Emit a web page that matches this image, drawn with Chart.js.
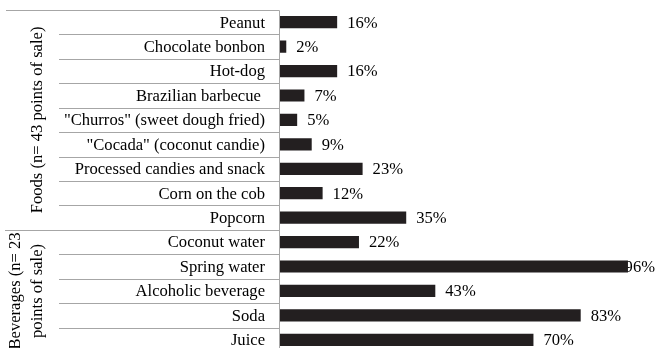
<!DOCTYPE html>
<html>
<head>
<meta charset="utf-8">
<script src="https://cdn.jsdelivr.net/npm/chart.js@4"></script>
<style>
  html, body { margin: 0; padding: 0; background: #fff; overflow: hidden; }
  #wrap { position: relative; width: 656px; height: 352px; }
</style>
</head>
<body>
<div id="wrap"><canvas id="chart"></canvas></div>
<script>
// items, top to bottom
const items = [
    'Peanut', 'Chocolate bonbon', 'Hot-dog', 'Brazilian barbecue ',
    '"Churros" (sweet dough fried)', '"Cocada" (coconut candie)',
    'Processed candies and snack', 'Corn on the cob', 'Popcorn',
    'Coconut water', 'Spring water', 'Alcoholic beverage', 'Soda', 'Juice'
];
const shares = [16, 2, 16, 7, 5, 9, 23, 12, 35, 22, 96, 43, 83, 70];

// groups: label lines + how many items they hold
const groupNames = [
    ['Foods (n= 43 points of sale)'],
    ['Beverages (n= 23', 'points of sale)']
];
const groupSizes = [9, 5];

const FONT = '16.6px "Liberation Serif", "Times New Roman", serif';
const GRID = '#a6a6a6';

const tablePlugin = {
    id: 'table',
    beforeDatasetsDraw(chart) {
        // value labels go under the bars (96% is partly hidden in the source)
        const ctx = chart.ctx;
        const meta = chart.getDatasetMeta(0);
        ctx.save();
        ctx.font = FONT;
        ctx.fillStyle = '#000';
        ctx.textBaseline = 'middle';
        meta.data.forEach((bar, i) => {
            const txt = shares[i] + '%';
            const w = ctx.measureText(txt).width;
            const x = Math.min(bar.x + 10, chart.width - 1 - w);
            ctx.fillText(txt, x, bar.y + 1);
        });
        ctx.restore();
    },
    afterDraw(chart) {
        const ctx = chart.ctx;
        const y = chart.scales.y;
        const area = chart.chartArea;
        const axisX = Math.round(area.left) + 0.5;
        const pos = i => y.getPixelForValue(i);
        const half = (pos(1) - pos(0)) / 2;

        ctx.save();
        ctx.strokeStyle = GRID;
        ctx.lineWidth = 1;

        // row separators
        const groupEnds = [];
        let acc = 0;
        groupSizes.forEach(n => { acc += n; groupEnds.push(acc); });
        for (let i = 0; i < items.length; i++) {
            const yy = Math.round(pos(i) - half) + 0.5;
            let x0 = 59;
            if (i === 0) x0 = 6;
            else if (groupEnds.includes(i)) x0 = 5;
            ctx.beginPath();
            ctx.moveTo(x0, yy);
            ctx.lineTo(axisX, yy);
            ctx.stroke();
        }
        // axis line
        ctx.beginPath();
        ctx.moveTo(axisX, Math.round(area.top) + 0.5);
        ctx.lineTo(axisX, area.bottom);
        ctx.stroke();

        // item labels
        ctx.font = FONT;
        ctx.fillStyle = '#000';
        ctx.textAlign = 'right';
        ctx.textBaseline = 'middle';
        items.forEach((t, i) => ctx.fillText(t, 265, pos(i) + 1));

        // group labels, rotated
        ctx.textAlign = 'center';
        let start = 0;
        groupNames.forEach((lines, g) => {
            const end = start + groupSizes[g] - 1;
            const cy = (pos(start) - half + pos(end) + half) / 2;
            const n = lines.length;
            lines.forEach((line, k) => {
                const cx = n === 1 ? 38 : 16 + k * 22;
                ctx.save();
                ctx.translate(cx, cy);
                ctx.rotate(-Math.PI / 2);
                ctx.fillText(line, 0, 0);
                ctx.restore();
            });
            start += groupSizes[g];
        });
        ctx.restore();
    }
};

new Chart(document.getElementById('chart'), {
    type: 'bar',
    data: {
        labels: items,
        datasets: [{
            data: shares,
            backgroundColor: '#231f20',
            barPercentage: 0.5,
            categoryPercentage: 1.0
        }]
    },
    options: {
        indexAxis: 'y',
        responsive: true,
        maintainAspectRatio: false,
        animation: false,
        layout: { padding: { left: 279, right: 13.5, top: 10, bottom: 0 } },
        scales: {
            x: { display: false, min: 0, max: 100 },
            y: { display: false }
        },
        plugins: { legend: { display: false }, tooltip: { enabled: false } }
    },
    plugins: [tablePlugin]
});
</script>
</body>
</html>
